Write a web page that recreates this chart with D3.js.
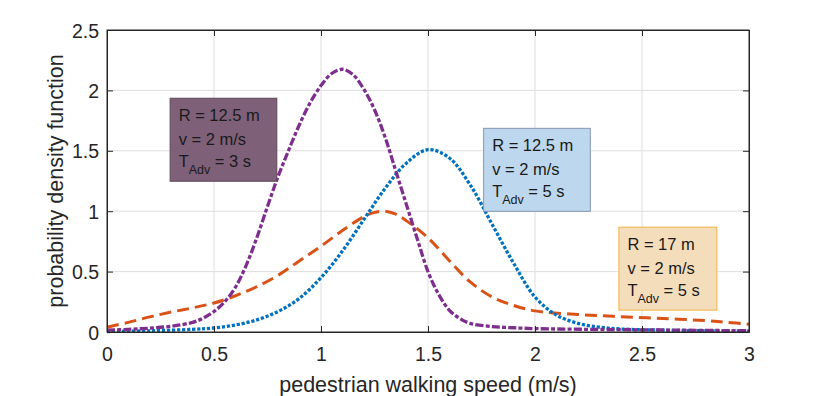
<!DOCTYPE html>
<html>
<head>
<meta charset="utf-8">
<script src="https://cdn.jsdelivr.net/npm/d3@7"></script>
<style>
  body { margin: 0; background: #fff; }
  svg { display: block; font-family: Arial, "Liberation Sans", Helvetica, sans-serif; }
</style>
</head>
<body>
<svg id="chart"></svg>
<script>
// walking speed (m/s) and pdf values
const speedT3 = [0, 0.1, 0.2, 0.3, 0.4, 0.45, 0.5, 0.55, 0.6, 0.65, 0.7, 0.75, 0.8, 0.85, 0.9, 0.95, 1.0, 1.05, 1.1, 1.15, 1.2, 1.25, 1.3, 1.35, 1.4, 1.45, 1.5, 1.55, 1.6, 1.65, 1.7, 1.8, 1.9, 2.0, 2.25, 2.5, 2.75, 3.0];
const pdfT3 = [0.015, 0.022, 0.032, 0.048, 0.08, 0.115, 0.17, 0.25, 0.37, 0.55, 0.78, 1.04, 1.29, 1.51, 1.72, 1.90, 2.04, 2.14, 2.175, 2.13, 2.01, 1.84, 1.61, 1.33, 1.05, 0.77, 0.50, 0.31, 0.18, 0.11, 0.07, 0.045, 0.035, 0.028, 0.022, 0.018, 0.014, 0.01];

const speedT5 = [0, 0.2, 0.4, 0.5, 0.6, 0.7, 0.8, 0.9, 1.0, 1.1, 1.2, 1.3, 1.4, 1.5, 1.6, 1.7, 1.8, 1.9, 2.0, 2.1, 2.2, 2.3, 2.4, 2.6, 2.8, 3.0];
const pdfT5 = [0.004, 0.01, 0.022, 0.033, 0.058, 0.1, 0.17, 0.28, 0.45, 0.67, 0.93, 1.19, 1.40, 1.51, 1.44, 1.21, 0.89, 0.57, 0.29, 0.14, 0.072, 0.04, 0.025, 0.015, 0.01, 0.008];

const speedR17 = [0, 0.1, 0.2, 0.3, 0.4, 0.5, 0.6, 0.7, 0.8, 0.9, 1.0, 1.1, 1.2, 1.25, 1.3, 1.35, 1.4, 1.5, 1.6, 1.7, 1.8, 1.9, 2.0, 2.2, 2.4, 2.6, 2.8, 2.9, 3.0];
const pdfR17 = [0.04, 0.08, 0.125, 0.165, 0.20, 0.24, 0.30, 0.375, 0.47, 0.59, 0.71, 0.84, 0.955, 0.99, 1.00, 0.975, 0.92, 0.78, 0.59, 0.41, 0.29, 0.22, 0.175, 0.145, 0.127, 0.112, 0.094, 0.08, 0.064];

const xTicks = [0, 0.5, 1, 1.5, 2, 2.5, 3];
const yTicks = [0, 0.5, 1, 1.5, 2, 2.5];

// annotation boxes: top-left corner in data units
const boxLabels = [
    { x: 0.295, y: 1.935, lines: ["R = 12.5 m", "v = 2 m/s"], t: "3", fill: "#7f6079", stroke: "#5e4658" },
    { x: 1.76, y: 1.686, lines: ["R = 12.5 m", "v = 2 m/s"], t: "5", fill: "#bdd7ee", stroke: "#8497b0" },
    { x: 2.392, y: 0.868, lines: ["R = 17 m", "v = 2 m/s"], t: "5", fill: "#f4ddbb", stroke: "#efb443" }
];

const width = 826, height = 396;
const margin = { top: 30, right: 77, bottom: 64, left: 107 };

const svg = d3.select("#chart")
    .attr("width", width)
    .attr("height", height);

const x = d3.scaleLinear().domain([0, 3]).range([margin.left, width - margin.right]);
const y = d3.scaleLinear().domain([0, 2.5]).range([height - margin.bottom, margin.top]);

const axisColor = "#262626";

// grid
svg.append("g").selectAll("line").data(xTicks.slice(1, -1)).enter().append("line")
    .attr("x1", d => x(d)).attr("x2", d => x(d))
    .attr("y1", y(0)).attr("y2", y(2.5))
    .attr("stroke", "#dedede").attr("stroke-width", 1);
svg.append("g").selectAll("line").data(yTicks.slice(1, -1)).enter().append("line")
    .attr("y1", d => y(d)).attr("y2", d => y(d))
    .attr("x1", x(0)).attr("x2", x(3))
    .attr("stroke", "#dedede").attr("stroke-width", 1);

// curves
const series = [
    { sx: speedR17, sy: pdfR17, color: "#d95319", dash: "12,6", w: 3 },
    { sx: speedT5, sy: pdfT5, color: "#0072bd", dash: "3.2,1.8", w: 3.3 },
    { sx: speedT3, sy: pdfT3, color: "#7e2f8e", dash: "8,2.2,4,2.2", w: 3.3 }
];

const line = d3.line()
    .x(d => x(d[0]))
    .y(d => y(d[1]))
    .curve(d3.curveCatmullRom.alpha(0.5));

series.forEach(s => {
    svg.append("path")
        .datum(s.sx.map((v, i) => [v, s.sy[i]]))
        .attr("d", line)
        .attr("fill", "none")
        .attr("stroke", s.color)
        .attr("stroke-width", s.w)
        .attr("stroke-dasharray", s.dash);
});

// axes (MATLAB style box with inward ticks)
const tickLen = 6;
const bottom = svg.append("g")
    .attr("transform", `translate(0, ${y(0)})`)
    .call(d3.axisBottom(x).tickValues(xTicks).tickFormat(d3.format("")).tickSizeInner(-tickLen).tickSizeOuter(0).tickPadding(0));
bottom.selectAll("text").attr("dy", null).attr("y", 28.5).attr("font-size", 19.5);

const left = svg.append("g")
    .attr("transform", `translate(${x(0)}, 0)`)
    .call(d3.axisLeft(y).tickValues(yTicks).tickFormat(d3.format("")).tickSizeInner(-tickLen).tickSizeOuter(0).tickPadding(0));
left.selectAll("text").attr("x", -8).attr("dy", "0.36em").attr("font-size", 19.5);

svg.append("g")
    .attr("transform", `translate(0, ${y(2.5)})`)
    .call(d3.axisTop(x).tickValues(xTicks).tickFormat("").tickSizeInner(-tickLen).tickSizeOuter(0));
svg.append("g")
    .attr("transform", `translate(${x(3)}, 0)`)
    .call(d3.axisRight(y).tickValues(yTicks).tickFormat("").tickSizeInner(-tickLen).tickSizeOuter(0));

svg.selectAll(".domain, .tick line").attr("stroke", axisColor);
svg.selectAll(".tick text").attr("fill", axisColor).attr("font-family", null);

svg.append("rect")
    .attr("x", x(0)).attr("y", y(2.5))
    .attr("width", x(3) - x(0)).attr("height", y(0) - y(2.5))
    .attr("fill", "none").attr("stroke", axisColor).attr("stroke-width", 1);

// axis labels
svg.append("text")
    .attr("x", (x(0) + x(3)) / 2)
    .attr("y", 391.5)
    .attr("text-anchor", "middle")
    .attr("font-size", 21.5)
    .attr("fill", axisColor)
    .text("pedestrian walking speed (m/s)");

svg.append("text")
    .attr("transform", `translate(62.5, ${(y(0) + y(2.5)) / 2}) rotate(-90)`)
    .attr("text-anchor", "middle")
    .attr("font-size", 21.5)
    .attr("fill", axisColor)
    .text("probability density function");

// annotation boxes
boxLabels.forEach(b => {
    const g = svg.append("g").attr("transform", `translate(${x(b.x)}, ${y(b.y)})`);
    const rect = g.append("rect").attr("fill", b.fill).attr("stroke", b.stroke).attr("stroke-width", 1);
    const txt = g.append("g").attr("font-size", 16.5).attr("fill", "#1a1a1a");
    b.lines.forEach((l, i) => {
        txt.append("text").attr("x", 8.5).attr("y", 23 + i * 23.5).text(l);
    });
    const t = txt.append("text").attr("x", 8.5).attr("y", 68.5);
    t.append("tspan").text("T");
    t.append("tspan").attr("font-size", 12.5).attr("dy", 7).text("Adv");
    t.append("tspan").attr("dy", -7).text(" = " + b.t + " s");
    const bb = txt.node().getBBox();
    rect.attr("x", 0).attr("y", 0)
        .attr("width", bb.x + bb.width + 17)
        .attr("height", 83);
});
</script>
</body>
</html>
